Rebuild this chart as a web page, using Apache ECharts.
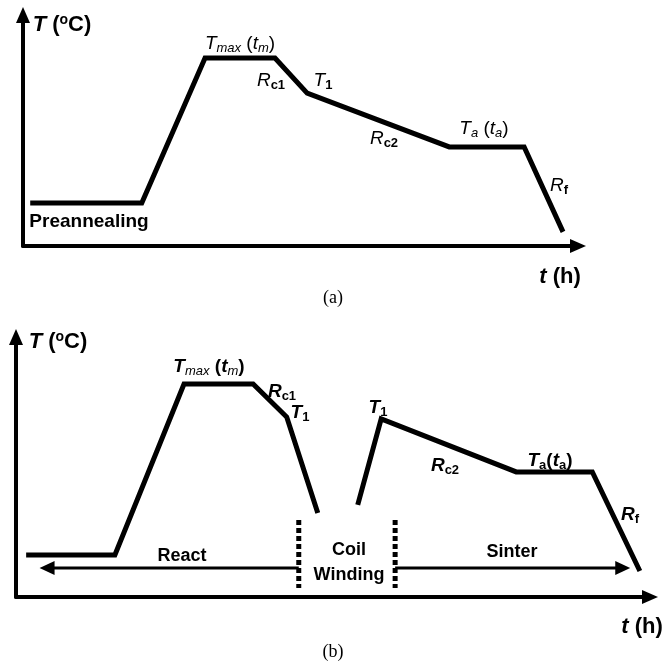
<!DOCTYPE html>
<html>
<head>
<meta charset="utf-8">
<script src="https://cdn.jsdelivr.net/npm/echarts@6/dist/echarts.min.js"></script>
<style>
html, body { margin: 0; padding: 0; background: #fff; }
#main { width: 666px; height: 663px; }
</style>
</head>
<body>
<div id="main"></div>
<script>
// (a) heat treatment profile: preannealing -> Tmax -> Rc1 -> T1 -> Rc2 -> Ta -> Rf
var timeA = [1.3, 21.4, 32.8, 45.4, 51.2, 76.8, 90.3, 97.3];
var tempA = [18.6, 18.6, 81.4, 81.4, 66.2, 42.9, 42.9, 6.1];
// (b) react part (before coil winding)
var timeReact = [1.6, 15.6, 26.5, 37.4, 42.7, 47.6];
var tempReact = [16.2, 16.2, 81.9, 81.9, 69.2, 32.3];
// (b) sinter part (after coil winding)
var timeSinter = [53.9, 57.6, 78.9, 90.9, 98.4];
var tempSinter = [35.4, 68.5, 48.1, 48.1, 10.0];
// coil winding boundaries (dotted lines)
var windingBounds = [44.6, 59.8];
var boundTemp = [29.6, 3.5];
// stage arrows: React goes left, Sinter goes right
var stageTemp = 11.2;
var reactEnd = 4.9;
var sinterEnd = 95.7;

function zip(xs, ys) {
  var out = [];
  for (var i = 0; i < xs.length; i++) out.push([xs[i], ys[i]]);
  return out;
}

var FONT = '"Liberation Sans", Arial, sans-serif';
var rich = {
  // axis titles
  ai: { fontFamily: FONT, fontSize: 22, fontWeight: 'bold', fontStyle: 'italic', lineHeight: 24 },
  ab: { fontFamily: FONT, fontSize: 22, fontWeight: 'bold', lineHeight: 24 },
  sup: { fontFamily: FONT, fontSize: 14, fontWeight: 'bold', lineHeight: 14, verticalAlign: 'top' },
  // panel (a) labels
  i: { fontFamily: FONT, fontSize: 19, fontStyle: 'italic', lineHeight: 22 },
  n: { fontFamily: FONT, fontSize: 19, lineHeight: 22 },
  sub: { fontFamily: FONT, fontSize: 13, fontStyle: 'italic', lineHeight: 12, verticalAlign: 'bottom' },
  subn: { fontFamily: FONT, fontSize: 13, fontWeight: 'bold', lineHeight: 12, verticalAlign: 'bottom' },
  // panel (b) labels (heavier)
  ib: { fontFamily: FONT, fontSize: 19, fontWeight: 'bold', fontStyle: 'italic', lineHeight: 22 },
  nb: { fontFamily: FONT, fontSize: 19, fontWeight: 'bold', lineHeight: 22 }
};

function txt(x, y, text, extra) {
  var style = {
    text: text,
    fill: '#000',
    align: 'center',
    verticalAlign: 'middle',
    rich: rich
  };
  if (extra) for (var k in extra) style[k] = extra[k];
  return { type: 'text', x: x, y: y, silent: true, style: style };
}

function arrowAxis(idx) {
  return {
    type: 'value', gridIndex: idx, min: 0, max: 100,
    axisLine: { show: true, symbol: ['none', 'triangle'], symbolSize: [14, 16], lineStyle: { color: '#000', width: 4 } },
    axisTick: { show: false }, axisLabel: { show: false }, splitLine: { show: false }
  };
}

function profile(idx, data) {
  return {
    type: 'line', xAxisIndex: idx, yAxisIndex: idx, data: data,
    symbol: 'none', silent: true,
    lineStyle: { color: '#000', width: 5, join: 'miter', cap: 'butt' }
  };
}

var chart = echarts.init(document.getElementById('main'));
chart.setOption({
  animation: false,
  backgroundColor: '#fff',
  grid: [
    { left: 23, top: 15, width: 555, height: 231 },
    { left: 16, top: 337, width: 634, height: 260 }
  ],
  xAxis: [arrowAxis(0), arrowAxis(1)],
  yAxis: [arrowAxis(0), arrowAxis(1)],
  series: [
    profile(0, zip(timeA, tempA)),
    profile(1, zip(timeReact, tempReact)),
    profile(1, zip(timeSinter, tempSinter)),
    {
      type: 'line', xAxisIndex: 1, yAxisIndex: 1, symbol: 'none', silent: true,
      data: zip([windingBounds[0], windingBounds[0]], boundTemp),
      lineStyle: { color: '#000', width: 5, type: [5, 3] }
    },
    {
      type: 'line', xAxisIndex: 1, yAxisIndex: 1, symbol: 'none', silent: true,
      data: zip([windingBounds[1], windingBounds[1]], boundTemp),
      lineStyle: { color: '#000', width: 5, type: [5, 3] }
    },
    {
      type: 'line', xAxisIndex: 1, yAxisIndex: 1, silent: true, showSymbol: true,
      data: [
        { value: [windingBounds[0], stageTemp], symbol: 'none' },
        { value: [reactEnd, stageTemp], symbol: 'triangle', symbolSize: [14, 15], symbolRotate: 90 }
      ],
      itemStyle: { color: '#000' },
      lineStyle: { color: '#000', width: 3 }
    },
    {
      type: 'line', xAxisIndex: 1, yAxisIndex: 1, silent: true, showSymbol: true,
      data: [
        { value: [windingBounds[1], stageTemp], symbol: 'none' },
        { value: [sinterEnd, stageTemp], symbol: 'triangle', symbolSize: [14, 15], symbolRotate: -90 }
      ],
      itemStyle: { color: '#000' },
      lineStyle: { color: '#000', width: 3 }
    }
  ],
  graphic: [
    // panel (a)
    txt(62, 25, '{ai|T}{ab| (}{sup|o}{ab|C)}'),
    txt(240, 44, '{i|T}{sub|max}{n| (}{i|t}{sub|m}{n|)}'),
    txt(271, 81, '{i|R}{subn|c1}'),
    txt(323, 81, '{i|T}{subn|1}'),
    txt(384, 139, '{i|R}{subn|c2}'),
    txt(484, 129, '{i|T}{sub|a}{n| (}{i|t}{sub|a}{n|)}'),
    txt(559, 186, '{i|R}{subn|f}'),
    txt(89, 222, 'Preannealing', { font: 'bold 19px ' + FONT }),
    txt(560, 277, '{ai|t}{ab| (h)}'),
    txt(333, 298, '(a)', { font: '18px "Liberation Serif", "Times New Roman", serif' }),
    // panel (b)
    txt(58, 342, '{ai|T}{ab| (}{sup|o}{ab|C)}'),
    txt(209, 367, '{ib|T}{sub|max}{nb| (}{ib|t}{sub|m}{nb|)}'),
    txt(282, 392, '{ib|R}{subn|c1}'),
    txt(300, 413, '{ib|T}{subn|1}'),
    txt(378, 408, '{ib|T}{subn|1}'),
    txt(445, 466, '{ib|R}{subn|c2}'),
    txt(550, 461, '{ib|T}{subn|a}{nb|(}{ib|t}{subn|a}{nb|)}'),
    txt(630, 515, '{ib|R}{subn|f}'),
    txt(182, 556, 'React', { font: 'bold 18px ' + FONT }),
    txt(349, 563, 'Coil\nWinding', { font: 'bold 18px ' + FONT, lineHeight: 25 }),
    txt(512, 552, 'Sinter', { font: 'bold 18px ' + FONT }),
    txt(642, 627, '{ai|t}{ab| (h)}'),
    txt(333, 652, '(b)', { font: '18px "Liberation Serif", "Times New Roman", serif' })
  ]
});
</script>
</body>
</html>
